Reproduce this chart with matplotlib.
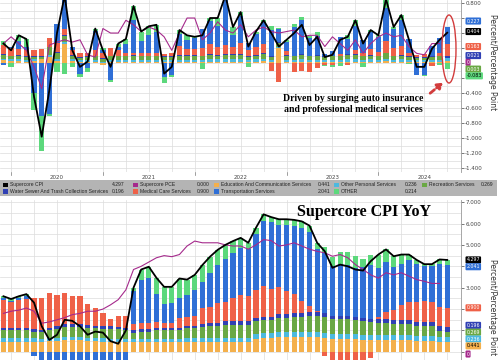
import numpy as np
import pandas as pd
import matplotlib
matplotlib.use("Agg")
import matplotlib.pyplot as plt
from matplotlib.patches import Rectangle, Ellipse, FancyArrowPatch
from matplotlib.transforms import blended_transform_factory

# monthly data, Nov 2019 .. Sep 2024 (month-end)
months = pd.period_range("2019-11", "2024-09", freq="M")
years = ["2020", "2021", "2022", "2023", "2024"]

# ---- top panel: MoM contributions (pp) ----
cpi_mom = [.26, .17, .37, .32, -.45, -.98, -.36, .40, .90, .17,
           -.05, .02, .46, .17, -.05, .26, .32, .76, .42, .49,
           .51, -.14, -.05, .44, .37, .35, .37, .60, .60, .90,
           .48, .68, .22, .42, .57, .40, .22, .31, .40, .51,
           .24, .35, .08, .11, .31, .35, .57, .26, .44, .37,
           .85, .48, .64, .31, -.05, -.05, .19, .31, .404]
pce_mom = [.26, .35, .26, .17, -.05, -.34, .24, .28, .31, .28,
           .31, .11, .08, .46, .40, .40, .57, .51, .42, .48,
           .44, .35, .17, .40, .60, .60, .31, .40, .55, .44,
           .40, .51, .35, .44, .48, .42, .40, .42, .44, .35,
           .37, .37, .22, .35, .26, .17, .31, .13, .26, .35,
           .40, .35, .37, .22, .13, .11, .26, .26, np.nan]
edu_mom = [.04, .03, .03, .02, .03, .05, .08, .03, .25, .03,
           .02, .02, .02, -.03, .02, .02, .02, .02, .02, .02,
           .02, .02, .02, .02, .02, .02, .02, .02, .02, .02,
           .02, .02, .02, .02, .03, .02, .20, .02, .02, .02,
           .02, .02, .02, .02, .02, .02, .02, .02, .02, .02,
           .03, .02, .02, .02, .02, .02, .02, .02, .03]
pers_mom = [.02, .02, .03, .02, .02, .01, .03, .03, .03, .02,
            .02, .02, .02, .02, .02, .02, .02, .02, .02, .02,
            .02, .02, .02, .02, .02, .02, .02, .03, .03, .03,
            .03, .03, .02, .03, .03, .02, .02, .02, .02, .03,
            .02, .02, .02, .02, .02, .03, .03, .02, .03, .02,
            .03, .02, .03, .02, .02, .02, .02, .02, .04]
rec_mom = [.05, .04, .04, .04, .03, .02, .10, .08, .08, .05,
           .03, .04, .05, .04, .05, .05, .05, .06, .05, .05,
           .05, .04, .04, .06, .06, .06, .05, .06, .05, .06,
           .06, .06, .04, .05, .06, .04, .05, .06, .05, .06,
           .05, .06, .04, .05, .05, .06, .06, .05, .05, .05,
           .07, .05, .05, .04, .03, .03, .04, .05, .003]
water_mom = [.01, .01, .01, .01, .01, .01, .01, .01, .01, .01,
             .01, .01, .01, .01, .01, .01, .01, .01, .01, .01,
             .01, .01, .01, .01, .01, .01, .01, .01, .01, .01,
             .01, .01, .01, .01, .01, .01, .01, .01, .01, .01,
             .01, .01, .01, .01, .01, .01, .01, .01, .01, .01,
             .01, .01, .01, .01, .01, .01, .01, .01, .021]
med_mom = [.12, .10, .08, .08, .08, .10, .12, .12, .08, .06,
           .05, .05, .08, .06, .10, .08, .04, .02, .03, .03,
           .04, .03, .04, .12, .08, .08, .10, .14, .10, .12,
           .10, .15, .08, .10, .12, -.10, -.25, .05, -.12, -.10,
           -.12, -.06, -.02, -.03, .02, -.03, .05, .03, .08, .05,
           .15, .10, .12, .05, .03, .04, -.04, .04, .163]
trans_mom = [-.03, .02, .10, .05, -.40, -.70, -.68, .25, .60, .05,
             -.15, -.07, .25, .05, -.22, .03, .12, .45, .17, .24,
             .27, -.18, -.16, .16, .12, .15, .25, .30, .28, .60,
             .16, .36, .10, .18, .30, .35, .17, .12, .38, .45,
             .24, .25, .03, .06, .23, .20, .33, .18, .22, .20,
             .45, .25, .35, .18, -.16, -.16, .14, .20, .227]
other_mom = [.05, -.05, .08, .10, -.22, -.47, -.02, -.12, -.15, -.05,
             -.03, -.05, .03, .02, -.03, .05, .06, .18, .12, .12,
             .10, -.08, -.02, .05, .06, .01, -.08, .04, .11, .06,
             .10, .05, -.05, .03, .02, .06, .02, .03, .04, .04,
             .02, .05, -.02, -.02, -.04, .06, .07, -.05, .03, .02,
             .11, .03, .06, -.01, 0, -.01, 0, -.03, -.083]

# ---- bottom panel: YoY contributions (pp) ----
cpi_yoy = [2.6, 2.47, 2.6, 2.7, 2.3, 1.2, .56, .8, 1.5, 1.45,
           1.2, .8, .95, .9, .5, .38, 1.0, 3.0, 3.85, 3.98,
           3.46, 3.04, 3.04, 3.43, 3.38, 3.6, 4.06, 4.45, 4.77, 5.0,
           5.18, 5.33, 5.1, 5.8, 6.43, 6.3, 6.2, 6.2, 6.17, 6.1,
           5.9, 5.1, 4.7, 3.93, 4.08, 4.0, 3.85, 3.8, 4.24, 4.55,
           4.79, 4.47, 4.55, 4.55, 4.3, 4.1, 4.1, 4.32, 4.297]
pce_yoy = [1.8, 1.9, 1.95, 2.05, 1.9, 1.34, 1.4, 1.5, 1.6, 1.74,
           1.8, 1.9, 1.9, 2.0, 2.2, 2.44, 2.9, 3.85, 4.0, 4.2,
           4.4, 4.5, 4.45, 4.55, 4.95, 5.18, 5.1, 5.1, 5.1, 5.0,
           4.95, 4.95, 4.8, 5.0, 5.25, 5.2, 4.95, 5.0, 5.1, 4.95,
           4.8, 4.7, 4.63, 4.47, 4.55, 4.4, 4.08, 3.85, 3.6, 3.45,
           3.7, 3.6, 3.7, 3.54, 3.38, 3.3, 3.2, 3.2, np.nan]
edu_yoy = [.45, .45, .45, .45, .45, .46, .5, .52, .55, .55,
           .55, .52, .5, .48, .46, .45, .45, .45, .45, .45,
           .45, .45, .45, .45, .45, .45, .45, .45, .45, .45,
           .45, .45, .45, .6, .65, .65, .7, .7, .7, .7,
           .7, .7, .65, .6, .6, .6, .6, .55, .55, .55,
           .55, .55, .55, .55, .5, .5, .5, .45, .441]
pers_yoy = [.2, .2, .2, .2, .2, .15, .15, .15, .15, .15,
            .15, .15, .15, .15, .15, .15, .15, .15, .15, .15,
            .15, .15, .15, .15, .2, .2, .2, .2, .22, .22,
            .22, .22, .22, .25, .25, .25, .25, .25, .25, .25,
            .25, .25, .25, .25, .25, .25, .25, .25, .25, .25,
            .25, .25, .25, .25, .25, .25, .25, .24, .236]
rec_yoy = [.35, .35, .35, .35, .3, .3, .35, .4, .45, .45,
           .45, .45, .45, .45, .45, .45, .4, .3, .35, .35,
           .4, .4, .4, .4, .45, .45, .5, .55, .55, .6,
           .6, .6, .6, .6, .6, .6, .65, .65, .7, .7,
           .75, .75, .75, .7, .7, .7, .65, .65, .6, .55,
           .55, .5, .5, .5, .45, .45, .45, .3, .269]
water_yoy = [.12, .12, .12, .12, .12, .12, .13, .13, .13, .13,
             .13, .13, .13, .13, .13, .13, .12, .1, .1, .1,
             .1, .1, .1, .1, .1, .12, .15, .15, .15, .15,
             .15, .15, .15, .15, .15, .15, .15, .15, .15, .15,
             .15, .15, .15, .15, .15, .15, .15, .15, .15, .18,
             .18, .18, .18, .18, .18, .2, .2, .2, .196]
med_yoy = [1.3, 1.2, 1.3, 1.35, 1.43, 1.5, 1.64, 1.46, 1.49, 1.33,
           1.33, .97, .8, .59, .37, .51, .57, .3, .3, .3,
           .3, .25, .25, .5, .45, .45, .75, .75, .9, .9,
           1.1, 1.25, 1.2, 1.3, 1.45, 1.3, 1.3, 1.1, .9, .6,
           .3, .05, -.2, -.5, -.6, -.65, -.65, -.55, -.3, .1,
           .35, .5, .7, .85, .95, 1.0, .95, .9, .9]
trans_yoy = [.1, .05, .1, .12, -.2, -1.33, -2.21, -1.86, -1.27, -1.16,
             -1.41, -1.42, -1.08, -.9, -1.06, -1.31, -.69, 1.55, 2.0, 2.1,
             1.3, .9, .95, .9, 1.0, 1.2, 1.2, 1.6, 1.8, 2.0,
             2.1, 2.2, 2.2, 2.6, 3.0, 3.1, 2.9, 3.1, 3.2, 3.4,
             3.45, 2.9, 2.8, 2.3, 2.4, 2.35, 2.25, 2.35, 2.5, 2.3,
             2.3, 2.0, 1.95, 1.95, 1.8, 1.6, 1.65, 2.0, 2.041]
other_yoy = [.08, .1, .08, .11, 0, 0, 0, 0, 0, 0,
             0, 0, 0, 0, 0, 0, 0, .15, .5, .53,
             .76, .79, .74, .93, .73, .73, .81, .75, .7, .68,
             .56, .46, .28, .3, .33, .25, .25, .25, .27, .3,
             .3, .3, .3, .43, .58, .6, .6, .4, .49, .62,
             .61, .49, .42, .27, .17, .1, .1, .23, .214]

names = ["Education And Communication Services", "Other Personal Services",
         "Recreation Services", "Water Sewer And Trash Collection Services",
         "Medical Care Services", "Transportation Services", "OTHER"]
colors = ["#f4b04c", "#4cb9df", "#6aa844", "#3040b4", "#ef6148", "#2f6fd6", "#5cd87c"]
BLACK, PCE = "#000000", "#a52a8c"

x = np.arange(len(months))


def stack(ax, series):
    pos = np.zeros(len(x))
    neg = np.zeros(len(x))
    for vals, c in zip(series, colors):
        v = np.asarray(vals, dtype=float)
        ax.bar(x, v, width=0.68, bottom=np.where(v >= 0, pos, neg), color=c, linewidth=0, zorder=2)
        pos += np.clip(v, 0, None)
        neg += np.clip(v, None, 0)


def style(ax, ylo, yhi, major, minor, hidden):
    ax.set_xlim(-0.45, 59.8)
    ax.set_ylim(ylo, yhi)
    for s in ["left", "top", "bottom"]:
        ax.spines[s].set_visible(False)
    ax.spines["right"].set_color("#999999")
    ax.spines["right"].set_linewidth(0.6)
    ax.yaxis.tick_right()
    ax.set_yticks(np.arange(np.ceil(ylo / major) * major, yhi, major))
    ax.set_yticks(np.arange(np.ceil(ylo / minor) * minor, yhi, minor), minor=True)
    # labels sitting under the value tags are left blank
    ax.yaxis.set_major_formatter(
        lambda v, p: "" if any(abs(v - h) < 1e-6 for h in hidden) else f"{v:.3f}")
    ax.tick_params(axis="y", which="major", labelsize=4, length=2, width=0.5, pad=1, colors="#444444")
    ax.tick_params(axis="y", which="minor", length=0)
    ax.set_xticks(np.arange(1, 59, 3))
    ax.set_xticklabels([])
    ax.tick_params(axis="x", length=0)
    ax.grid(True, which="both", color="#dcdcdc", linewidth=0.5, zorder=0)
    ax.set_axisbelow(True)


def tag(ax, y, text, fc, tc="white"):
    ax.annotate(text, xy=(1.012, y), xycoords=("axes fraction", "data"), fontsize=3.4, color=tc,
                va="center", ha="left", annotation_clip=False, zorder=10,
                bbox=dict(boxstyle="round,pad=0.22", fc=fc, ec="none"))


fig = plt.figure(figsize=(5, 3.6), dpi=100)
W = 461 / 500
ax1 = fig.add_axes([0, 1 - 172 / 360, W, 172 / 360])
ax2 = fig.add_axes([0, 0, W, 160 / 360])

# top panel
stack(ax1, [edu_mom, pers_mom, rec_mom, water_mom, med_mom, trans_mom, other_mom])
ax1.plot(x, pce_mom, color=PCE, lw=0.8, zorder=3)
ax1.plot(x, cpi_mom, color=BLACK, lw=1.3, zorder=4)
style(ax1, -1.45, 0.84, 0.2, 0.1, [0.6, 0.4, 0.2, 0.0, -0.2])
trans = blended_transform_factory(ax1.transData, ax1.transAxes)
for i, yr in enumerate(years):
    ax1.text(7 + 12 * i, -0.015, yr, transform=trans, ha="center", va="top", fontsize=4, color="#444444")
    ax1.plot([1 + 12 * i] * 2, [-0.02, 0.0], transform=trans, color="#777777", lw=0.5, clip_on=False)

tag(ax1, 0.56, "0.227", colors[5])
tag(ax1, 0.42, "0.404", BLACK)
tag(ax1, 0.22, "0.163", colors[4])
tag(ax1, 0.10, "0.021", colors[3])
tag(ax1, 0.01, "0", PCE)
tag(ax1, -0.08, "0.003", colors[2])
tag(ax1, -0.17, "-0.083", colors[6], "black")

# bottom panel
stack(ax2, [edu_yoy, pers_yoy, rec_yoy, water_yoy, med_yoy, trans_yoy, other_yoy])
ax2.plot(x, pce_yoy, color=PCE, lw=0.8, zorder=3)
ax2.plot(x, cpi_yoy, color=BLACK, lw=1.3, zorder=4)
style(ax2, -0.38, 7.1, 1.0, 0.5, [4.0, 2.0, 1.0, 0.0])

tag(ax2, 4.30, "4.297", BLACK)
tag(ax2, 3.98, "2.041", colors[5])
tag(ax2, 2.06, "0.900", colors[4])
tag(ax2, 1.24, "0.196", colors[3])
tag(ax2, 0.92, "0.269", colors[2])
tag(ax2, 0.60, "0.236", colors[1])
tag(ax2, 0.28, "0.441", colors[0], "black")
tag(ax2, -0.10, "0", PCE)

# axis titles on the right
fig.text(0.986, 1 - 62 / 360, "Percent/Percentage Point", rotation=270, ha="center", va="center",
         fontsize=5.5, color="#333333")
fig.text(0.986, 1 - 307 / 360, "Percent/Percentage Point", rotation=270, ha="center", va="center",
         fontsize=5.5, color="#333333")

# legend band
fig.add_artist(Rectangle((0, 1 - 196 / 360), 497 / 500, 16 / 360, transform=fig.transFigure,
                         facecolor="#b4b4b4", edgecolor="none", zorder=5))
legend_rows = [
    [("Supercore CPI", "4.297", BLACK, 3, 124), ("Supercore PCE", "0.000", PCE, 133, 210),
     (names[0], "0.441", colors[0], 214, 330), (names[1], "0.236", colors[1], 334, 417),
     (names[2], "0.269", colors[2], 422, 493)],
    [(names[3], "0.196", colors[3], 3, 124), (names[4], "0.900", colors[4], 133, 210),
     (names[5], "2.041", colors[5], 214, 330), (names[6], "0.214", colors[6], 334, 417)],
]
for row, ypx in zip(legend_rows, [185, 191.5]):
    yf = 1 - ypx / 360
    for label, val, c, x0, x1 in row:
        fig.add_artist(Rectangle((x0 / 500, yf - 2.2 / 360), 4.5 / 500, 4.5 / 360,
                                 transform=fig.transFigure, facecolor=c, edgecolor="none", zorder=6))
        fig.text((x0 + 7) / 500, yf, label, fontsize=3.6, family="Liberation Sans", color="#222222",
                 va="center", ha="left", zorder=6)
        fig.text(x1 / 500, yf, val, fontsize=3.6, family="Liberation Sans", color="#222222",
                 va="center", ha="right", zorder=6)

# titles and annotation
fig.text(0.728, 1 - 212 / 360, "Supercore CPI YoY", family="Liberation Serif", fontweight="bold",
         fontsize=11.5, ha="center", va="center", zorder=6)
fig.text(0.706, 1 - 104 / 360, "Driven by surging auto insurance\nand professional medical services",
         family="Liberation Serif", fontweight="bold", fontsize=7, ha="center", va="center",
         linespacing=1.25, zorder=6)
fig.add_artist(Ellipse((449 / 500, 1 - 49 / 360), 14 / 500, 68 / 360, transform=fig.transFigure,
                       fill=False, edgecolor="#d23c3c", linewidth=1.0, zorder=6))
fig.add_artist(FancyArrowPatch((428 / 500, 1 - 95 / 360), (445 / 500, 1 - 81 / 360),
                               transform=fig.transFigure, arrowstyle="-|>,head_length=3,head_width=2",
                               linestyle=(0, (2, 1)), color="#d23c3c", linewidth=2, zorder=6))

fig.savefig("out.png", dpi=100)
